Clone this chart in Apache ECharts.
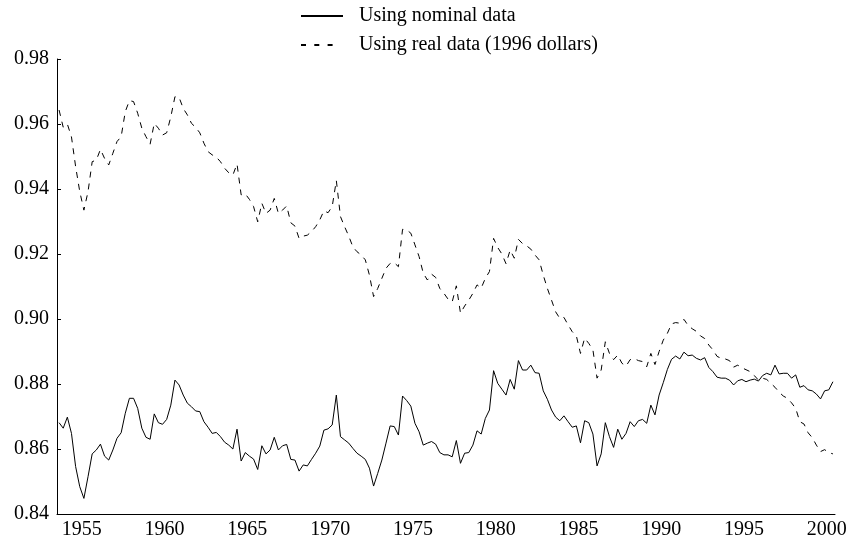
<!DOCTYPE html>
<html>
<head>
<meta charset="utf-8">
<script src="https://cdn.jsdelivr.net/npm/echarts@6/dist/echarts.min.js"></script>
<style>
  html, body { margin: 0; padding: 0; background: #fff; }
  #chart { width: 853px; height: 544px; }
</style>
</head>
<body>
<div id="chart"></div>
<script>
// quarterly series, 1954Q1 - 2000Q4 (4 values per row = one year)
var startYear = 1954;
var years = [];
for (var y = 1954; y <= 2000; y++) years.push(String(y));

var nominal = [
	0.8681, 0.8664, 0.8698, 0.8648,
	0.8546, 0.8484, 0.8448, 0.8515,
	0.8585, 0.8597, 0.8615, 0.8578,
	0.8566, 0.8597, 0.8633, 0.8650,
	0.8710, 0.8756, 0.8756, 0.8725,
	0.8664, 0.8636, 0.8630, 0.8708,
	0.8681, 0.8676, 0.8691, 0.8735,
	0.8812, 0.8797, 0.8766, 0.8741,
	0.8730, 0.8717, 0.8715, 0.8684,
	0.8667, 0.8648, 0.8651, 0.8638,
	0.8621, 0.8612, 0.8600, 0.8661,
	0.8563, 0.8589, 0.8578, 0.8569,
	0.8537, 0.8610, 0.8585, 0.8597,
	0.8636, 0.8597, 0.8610, 0.8614,
	0.8568, 0.8566, 0.8532, 0.8551,
	0.8548, 0.8568, 0.8587, 0.8609,
	0.8658, 0.8662, 0.8674, 0.8766,
	0.8638, 0.8628, 0.8618, 0.8602,
	0.8587, 0.8578, 0.8568, 0.8541,
	0.8486, 0.8525, 0.8566, 0.8618,
	0.8671, 0.8669, 0.8643, 0.8763,
	0.8749, 0.8732, 0.8679, 0.8653,
	0.8612, 0.8618, 0.8623, 0.8615,
	0.8589, 0.8582, 0.8582, 0.8576,
	0.8626, 0.8556, 0.8587, 0.8589,
	0.8612, 0.8656, 0.8646, 0.8694,
	0.8720, 0.8841, 0.8802, 0.8784,
	0.8766, 0.8814, 0.8784, 0.8872,
	0.8843, 0.8843, 0.8858, 0.8835,
	0.8833, 0.8779, 0.8753, 0.8720,
	0.8698, 0.8687, 0.8702, 0.8684,
	0.8667, 0.8671, 0.8619, 0.8687,
	0.8681, 0.8646, 0.8548, 0.8585,
	0.8681, 0.8638, 0.8605, 0.8661,
	0.8630, 0.8648, 0.8684, 0.8669,
	0.8687, 0.8691, 0.8679, 0.8735,
	0.8705, 0.8766, 0.8804, 0.8845,
	0.8876, 0.8886, 0.8877, 0.8898,
	0.8887, 0.8889, 0.8879, 0.8874,
	0.8881, 0.8851, 0.8838, 0.8821,
	0.8818, 0.8818, 0.8812, 0.8797,
	0.8810, 0.8814, 0.8807, 0.8812,
	0.8815, 0.8809, 0.8826, 0.8833,
	0.8828, 0.8858, 0.8831, 0.8833,
	0.8833, 0.8818, 0.8828, 0.8790,
	0.8795, 0.8782, 0.8779, 0.8769,
	0.8754, 0.8779, 0.8782, 0.8807
];

var real = [
	0.9643, 0.9590, 0.9600, 0.9560,
	0.9469, 0.9392, 0.9335, 0.9392,
	0.9484, 0.9489, 0.9522, 0.9494,
	0.9474, 0.9510, 0.9546, 0.9561,
	0.9638, 0.9672, 0.9669, 0.9633,
	0.9587, 0.9561, 0.9538, 0.9602,
	0.9587, 0.9566, 0.9573, 0.9622,
	0.9684, 0.9682, 0.9648, 0.9628,
	0.9602, 0.9590, 0.9573, 0.9541,
	0.9515, 0.9505, 0.9498, 0.9484,
	0.9464, 0.9450, 0.9443, 0.9477,
	0.9382, 0.9385, 0.9368, 0.9346,
	0.9299, 0.9356, 0.9325, 0.9335,
	0.9371, 0.9325, 0.9335, 0.9348,
	0.9296, 0.9286, 0.9248, 0.9255,
	0.9258, 0.9269, 0.9284, 0.9305,
	0.9333, 0.9327, 0.9346, 0.9426,
	0.9315, 0.9284, 0.9255, 0.9222,
	0.9207, 0.9197, 0.9182, 0.9135,
	0.9069, 0.9094, 0.9125, 0.9156,
	0.9171, 0.9173, 0.9161, 0.9276,
	0.9274, 0.9264, 0.9228, 0.9192,
	0.9141, 0.9120, 0.9138, 0.9128,
	0.9094, 0.9079, 0.9061, 0.9053,
	0.9102, 0.9018, 0.9040, 0.9058,
	0.9079, 0.9105, 0.9095, 0.9125,
	0.9146, 0.9248, 0.9220, 0.9200,
	0.9170, 0.9212, 0.9187, 0.9245,
	0.9232, 0.9225, 0.9215, 0.9197,
	0.9182, 0.9135, 0.9094, 0.9058,
	0.9022, 0.9002, 0.9005, 0.8982,
	0.8961, 0.8948, 0.8894, 0.8941,
	0.8925, 0.8905, 0.8818, 0.8843,
	0.8930, 0.8894, 0.8875, 0.8889,
	0.8864, 0.8855, 0.8875, 0.8878,
	0.8872, 0.8869, 0.8853, 0.8894,
	0.8860, 0.8900, 0.8935, 0.8956,
	0.8985, 0.8989, 0.8987, 0.8999,
	0.8980, 0.8970, 0.8962, 0.8948,
	0.8940, 0.8920, 0.8905, 0.8885,
	0.8879, 0.8877, 0.8872, 0.8852,
	0.8858, 0.8850, 0.8844, 0.8838,
	0.8826, 0.8812, 0.8818, 0.8814,
	0.8802, 0.8790, 0.8775, 0.8763,
	0.8756, 0.8742, 0.8725, 0.8684,
	0.8677, 0.8650, 0.8635, 0.8612,
	0.8592, 0.8598, 0.8589, 0.8585
];

var seriesNames = ['Using nominal data', 'Using real data (1996 dollars)'];

// quarter i sits in the middle of its quarter of the year
function toPairs(arr) {
	var out = [];
	for (var i = 0; i < arr.length; i++) {
		out.push([startYear + (i + 0.5) / 4, arr[i]]);
	}
	return out;
}

var font = 'Liberation Serif';
var chart = echarts.init(document.getElementById('chart'));
chart.setOption({
	animation: false,
	backgroundColor: '#fff',
	textStyle: { fontFamily: font, color: '#000' },
	legend: {
		orient: 'vertical',
		left: 295,
		top: 1,
		padding: 5,
		itemWidth: 42,
		itemHeight: 20,
		itemGap: 9,
		data: [
			{ name: seriesNames[0] },
			// three short dashes, as in the printed key
			{ name: seriesNames[1], lineStyle: { type: [5, 8.3, 5, 8.3, 5, 20] } }
		],
		itemStyle: { opacity: 0 },
		textStyle: { fontFamily: font, fontSize: 20, color: '#000', padding: [0, 0, 0, 11] }
	},
	grid: { left: 57, right: 18, top: 59, bottom: 30 },
	xAxis: [
		{
			type: 'category',
			data: years,
			boundaryGap: true,
			axisLine: { lineStyle: { color: '#000', width: 1 } },
			axisTick: { inside: true, length: 5, interval: 0, lineStyle: { color: '#000' } },
			axisLabel: {
				interval: function (idx, val) { return Number(val) % 5 === 0; },
				fontFamily: font, fontSize: 20, color: '#000', margin: 6
			},
			splitLine: { show: false }
		},
		{ type: 'value', min: 1954, max: 2001, show: false }
	],
	yAxis: {
		type: 'value',
		min: 0.84,
		max: 0.98,
		interval: 0.02,
		axisLine: { show: true, lineStyle: { color: '#000', width: 1 } },
		axisTick: { show: true, inside: true, length: 4, lineStyle: { color: '#000' } },
		axisLabel: {
			fontFamily: font, fontSize: 20, color: '#000', margin: 8,
			formatter: function (v) { return v.toFixed(2); }
		},
		splitLine: { show: false }
	},
	series: [
		{
			name: seriesNames[0],
			type: 'line',
			xAxisIndex: 1,
			symbol: 'none',
			data: toPairs(nominal),
			lineStyle: { color: '#000', width: 1 },
			itemStyle: { color: '#000' }
		},
		{
			name: seriesNames[1],
			type: 'line',
			xAxisIndex: 1,
			symbol: 'none',
			data: toPairs(real),
			lineStyle: { color: '#000', width: 1, type: [6, 6] },
			itemStyle: { color: '#000' }
		}
	]
});
</script>
</body>
</html>
